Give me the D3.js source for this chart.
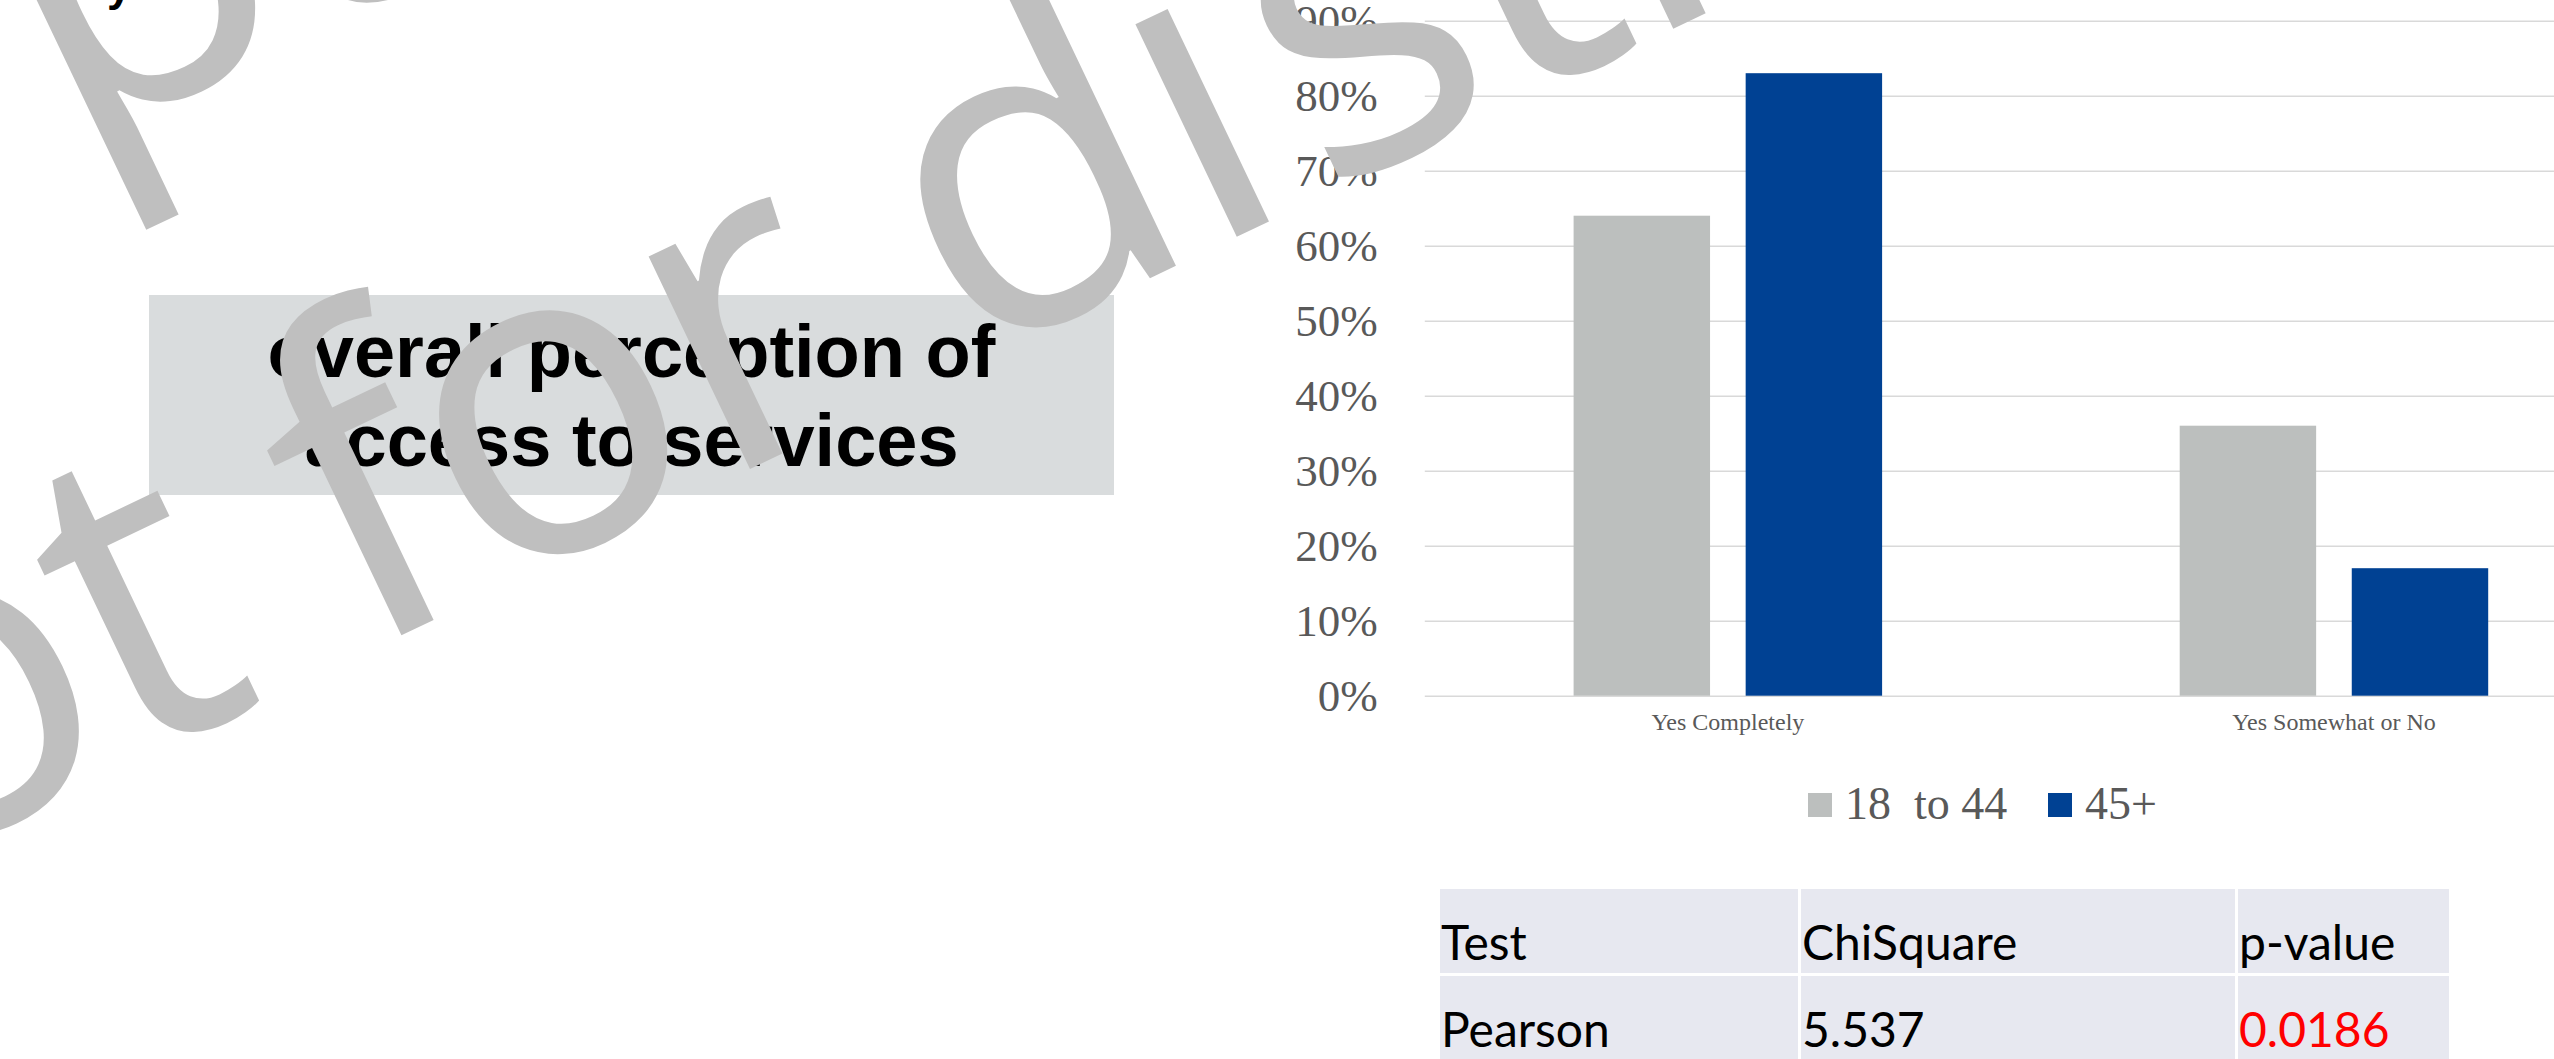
<!DOCTYPE html>
<html>
<head>
<meta charset="utf-8">
<script src="https://cdn.jsdelivr.net/npm/d3@7"></script>
<style>
  body { margin: 0; background: #fff; overflow: hidden; }
</style>
</head>
<body>
<div id="container"></div>
<script>
// chart data
var categories = ['Yes Completely', 'Yes Somewhat or No'];
var seriesNames = ['18  to 44', '45+'];
var youngValues = [0.64, 0.36];
var olderValues = [0.83, 0.17];
var yTicks = [0, 0.1, 0.2, 0.3, 0.4, 0.5, 0.6, 0.7, 0.8, 0.9, 1.0];

// slide text
var titleLines = ['overall perception of', 'access to services'];
var tableHeader = ['Test', 'ChiSquare', 'p-value'];
var tableRow = ['Pearson', '5.537', '0.0186'];
var watermarkLines = ['not for publication', 'not for distribution'];

var svgWidth = 2554,
    svgHeight = 1059,
    svg = d3.select('#container').append('svg').attr('width', svgWidth).attr('height', svgHeight).style('display', 'block'),
    colors = ['#BCBFBE', '#004193'];

// chart area (runs off the right / top edge of the slide)
var plot = { left: 1424.8, right: 2637, top: -54.3, bottom: 695.7 };

var x0 = d3.scaleBand().domain(categories).range([plot.left, plot.right]).paddingInner(0.491).paddingOuter(0.2455);
var x1 = d3.scaleBand().domain(seriesNames).range([0, x0.bandwidth()]).paddingInner(0.207);
var y = d3.scaleLinear().domain([0, 1]).range([plot.bottom, plot.top]);

var rows = categories.map(function(c, i) {
  return { cat: c, vals: [youngValues[i], olderValues[i]] };
});

// gridlines
var grid = svg.append('g').attr('transform', 'translate(' + plot.left + ',0)')
    .call(d3.axisLeft(y).tickValues(yTicks).tickSize(-(plot.right - plot.left)).tickFormat(''));
grid.select('.domain').remove();
grid.selectAll('line').attr('stroke', '#D9D9D9').attr('stroke-width', 1.5);

// y labels
var yAxis = svg.append('g').attr('transform', 'translate(' + plot.left + ',0)')
    .call(d3.axisLeft(y).tickValues(yTicks).tickSize(0).tickPadding(47).tickFormat(d3.format('.0%')));
yAxis.select('.domain').remove();
yAxis.selectAll('text').attr('fill', '#595959').style('font-family', '"Liberation Serif", "Times New Roman", serif').style('font-size', '45px');

// bars
var groups = svg.append('g').selectAll('g').data(rows).enter().append('g')
    .attr('transform', function(d) { return 'translate(' + x0(d.cat) + ',0)'; });
groups.selectAll('rect').data(function(d) { return d.vals.map(function(v, j) { return { s: seriesNames[j], v: v, j: j }; }); })
  .enter().append('rect')
    .attr('x', function(d) { return x1(d.s); })
    .attr('y', function(d) { return y(d.v); })
    .attr('width', x1.bandwidth())
    .attr('height', function(d) { return y(0) - y(d.v); })
    .attr('fill', function(d) { return colors[d.j]; });

// x labels
var xAxis = svg.append('g').attr('transform', 'translate(0,' + plot.bottom + ')')
    .call(d3.axisBottom(x0).tickSize(0).tickPadding(17));
xAxis.select('.domain').remove();
xAxis.selectAll('text').attr('fill', '#595959').style('font-family', '"Liberation Serif", "Times New Roman", serif').style('font-size', '24px');

// legend
var legendX = [1808, 2048];
var legend = svg.append('g').selectAll('g').data(seriesNames).enter().append('g')
    .attr('transform', function(d, i) { return 'translate(' + legendX[i] + ',793)'; });
legend.append('rect').attr('width', 24).attr('height', 24).attr('fill', function(d, i) { return colors[i]; });
legend.append('text').attr('x', 37).attr('y', 26)
    .attr('fill', '#595959')
    .style('font-family', '"Liberation Serif", "Times New Roman", serif')
    .style('font-size', '46px')
    .style('white-space', 'pre')
    .text(function(d) { return d; });

// title box
svg.append('rect').attr('x', 149).attr('y', 295).attr('width', 965).attr('height', 200).attr('fill', '#D9DCDD');
svg.append('g').selectAll('text').data(titleLines).enter().append('text')
    .attr('x', 631.5)
    .attr('y', function(d, i) { return 377 + i * 89; })
    .attr('text-anchor', 'middle')
    .style('font-family', '"Liberation Sans", Arial, sans-serif')
    .style('font-weight', 'bold')
    .style('font-size', '74px')
    .text(function(d) { return d; });

// cut-off slide heading above
svg.append('text').attr('x', 107).attr('y', 1)
    .style('font-family', '"Liberation Sans", Arial, sans-serif').style('font-weight', 'bold').style('font-size', '44px')
    .text('y');

// stats table
var colEdges = [1440, 1801, 2238, 2449];
var rowEdges = [889, 976];
var rowHeight = 84;
var tableRows = [tableHeader, tableRow];
var table = svg.append('g');
tableRows.forEach(function(r, ri) {
  r.forEach(function(cell, ci) {
    var cx = colEdges[ci], cw = colEdges[ci + 1] - cx - (ci < 2 ? 3 : 0);
    table.append('rect').attr('x', cx).attr('y', rowEdges[ri]).attr('width', cw).attr('height', rowHeight + (ri ? 10 : 0)).attr('fill', '#E7E8F0');
    table.append('text').attr('x', cx + 1).attr('y', rowEdges[ri] + 71)
        .attr('fill', ri === 1 && ci === 2 ? '#FF0000' : '#000')
        .style('font-family', 'Lato, "Open Sans", sans-serif')
        .style('font-size', '48px')
        .text(cell);
  });
});

// watermark on top
var wm = svg.append('g').attr('fill', '#BFBFBF')
    .style('font-family', '"Open Sans", sans-serif').style('font-size', '440px').style('letter-spacing', '-8px');
var wmAnchors = [{ x: 67, y: 151, letter: 8, split: 99, gap: 0 }, { x: 358, y: 656, letter: 4, split: 10, gap: 30 }];
watermarkLines.forEach(function(line, i) {
  var a = wmAnchors[i];
  var t = wm.append('text')
      .attr('transform', 'translate(' + a.x + ',' + a.y + ') rotate(-25.5)');
  t.append('tspan').text(line.slice(0, a.split));
  if (a.split < line.length) t.append('tspan').attr('dx', a.gap).text(line.slice(a.split));
  t.attr('x', -t.node().getSubStringLength(0, a.letter));
});
</script>
</body>
</html>
